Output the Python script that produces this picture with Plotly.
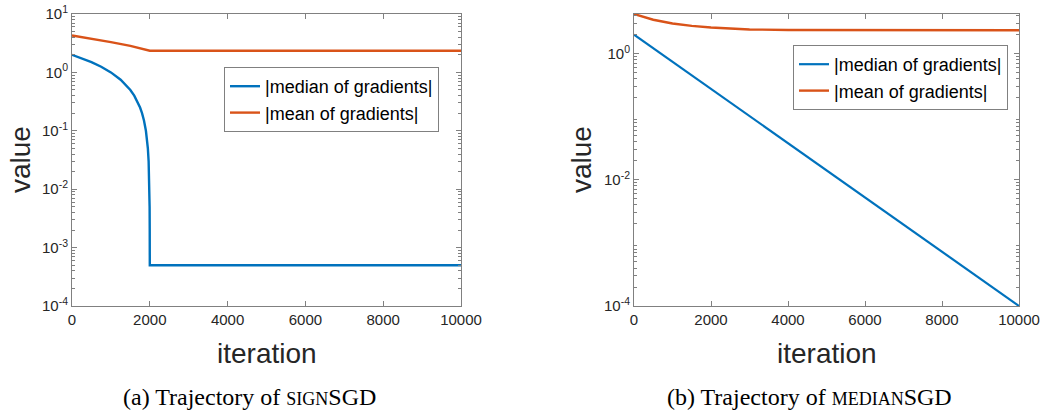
import plotly.graph_objects as go
import math

# ---- data ----
iter_a_median = [0, 250, 500, 750, 1000, 1250, 1400, 1500, 1600, 1700, 1750, 1800, 1850, 1900,
                 1925, 1950, 1970, 1980, 1990, 1995, 1998, 2000, 10000]
median_a = [2.0, 1.75, 1.5, 1.25, 1.0, 0.75, 0.6, 0.5, 0.4, 0.3, 0.25, 0.2, 0.15, 0.1,
            0.075, 0.05, 0.03, 0.02, 0.01, 0.005, 0.002, 0.0005, 0.0005]
iter_a_mean = [0, 500, 1000, 1500, 2000, 10000]
mean_a = [4.3, 3.8, 3.3, 2.85, 2.35, 2.35]

iter_b_median = [0, 2000, 4000, 6000, 8000, 10000]
median_b = [2.0, 0.276, 0.0381, 0.00526, 0.000725, 0.0001]
iter_b_mean = [0, 250, 500, 1000, 1500, 2000, 2500, 3000, 4000, 6000, 10000]
mean_b = [4.25, 3.8, 3.45, 3.0, 2.75, 2.6, 2.5, 2.42, 2.37, 2.35, 2.35]

x_ticks = [0, 2000, 4000, 6000, 8000, 10000]
x_ticktext = ["0", "2000", "4000", "6000", "8000", "10000"]
y_ticks_a = [1e-4, 1e-3, 1e-2, 1e-1, 1e0, 1e1]
y_ticktext_a = ["10<sup>-4</sup>", "10<sup>-3</sup>", "10<sup>-2</sup>", "10<sup>-1</sup>", "10<sup>0</sup>", "10<sup>1</sup>"]
y_ticks_b = [1e-4, 1e-2, 1e0]
y_ticktext_b = ["10<sup>-4</sup>", "10<sup>-2</sup>", "10<sup>0</sup>"]

names = ["|median of gradients|", "|mean of gradients|"]
captions = ["(a) Trajectory of <span style='font-size:18px'>SIGN</span>SGD",
            "(b) Trajectory of <span style='font-size:18px'>MEDIAN</span>SGD"]

BLUE = "#0072BD"
ORANGE = "#D95319"
AXC = "#808080"
TXT = "#262626"
SANS = "Liberation Sans, Arial, sans-serif"
SERIF = "Liberation Serif, DejaVu Serif, serif"

W, H = 1046, 412

# minor log ticks (2..9 within each decade)
minor_vals = [m * 10.0 ** e for e in range(-5, 2) for m in range(2, 10)]

fig = go.Figure()
fig.add_trace(go.Scatter(x=iter_a_median, y=median_a, mode="lines", name=names[0],
                         line=dict(color=BLUE, width=2.4), xaxis="x", yaxis="y", legend="legend"))
fig.add_trace(go.Scatter(x=iter_a_mean, y=mean_a, mode="lines", name=names[1],
                         line=dict(color=ORANGE, width=2.4), xaxis="x", yaxis="y", legend="legend"))
fig.add_trace(go.Scatter(x=iter_b_median, y=median_b, mode="lines", name=names[0],
                         line=dict(color=BLUE, width=2.2), xaxis="x2", yaxis="y2", legend="legend2"))
fig.add_trace(go.Scatter(x=iter_b_mean, y=mean_b, mode="lines", name=names[1],
                         line=dict(color=ORANGE, width=2.4), xaxis="x2", yaxis="y2", legend="legend2"))

ydom = [1 - 306 / H, 1 - 14 / H]

def xax(dom, anchor):
    return dict(domain=dom, anchor=anchor, range=[0, 10000], tickmode="array",
                tickvals=x_ticks, ticktext=x_ticktext, automargin=False,
                ticks="inside", ticklen=5, tickcolor=AXC, showline=True, linecolor=AXC,
                linewidth=1, mirror="ticks", showgrid=False, zeroline=False,
                tickfont=dict(family=SANS, size=15, color=TXT))

def yax(anchor, rng, tv, tt):
    return dict(domain=ydom, anchor=anchor, type="log", range=rng, tickmode="array",
                tickvals=tv, ticktext=tt, automargin=False,
                ticks="inside", ticklen=5, tickcolor=AXC, showline=True, linecolor=AXC,
                linewidth=1, mirror="ticks", showgrid=False, zeroline=False,
                minor=dict(tickmode="array", tickvals=minor_vals, ticks="inside",
                           ticklen=3, tickcolor=AXC, showgrid=False),
                tickfont=dict(family=SANS, size=15, color=TXT))

fig.update_layout(
    template="none",
    width=W, height=H,
    margin=dict(l=0, r=0, t=0, b=0, autoexpand=False),
    paper_bgcolor="white", plot_bgcolor="white",
    xaxis=xax([72 / W, 461 / W], "y"),
    yaxis=yax("x", [-4, 1], y_ticks_a, y_ticktext_a),
    xaxis2=xax([634 / W, 1019 / W], "y2"),
    yaxis2=yax("x2", [-4, math.log10(4.25)], y_ticks_b, y_ticktext_b),
    legend=dict(x=224 / W, y=1 - 67 / H, xanchor="left", yanchor="top",
                bordercolor=AXC, borderwidth=1, bgcolor="white",
                font=dict(family=SANS, size=18, color="black"), tracegroupgap=0),
    legend2=dict(x=793 / W, y=1 - 45 / H, xanchor="left", yanchor="top",
                 bordercolor=AXC, borderwidth=1, bgcolor="white",
                 font=dict(family=SANS, size=18, color="black"), tracegroupgap=0),
    showlegend=True,
)

ann = []
# axis titles
for xc in [267, 827]:
    ann.append(dict(text="iteration", x=xc / W, y=1 - 353 / H, xref="paper", yref="paper",
                    showarrow=False, font=dict(family=SANS, size=28, color=TXT),
                    xanchor="center", yanchor="middle"))
for xc in [20, 581]:
    ann.append(dict(text="value", x=xc / W, y=1 - 160 / H, xref="paper", yref="paper",
                    showarrow=False, textangle=-90, font=dict(family=SANS, size=28, color=TXT),
                    xanchor="center", yanchor="middle"))
# captions
for xc, cap in zip([249, 809], captions):
    ann.append(dict(text=cap, x=xc / W, y=1 - 397 / H, xref="paper", yref="paper",
                    showarrow=False, font=dict(family=SERIF, size=24, color="black"),
                    xanchor="center", yanchor="middle"))
fig.update_layout(annotations=ann)

fig.write_html("out.html", config={"displayModeBar": False},
               post_script="document.body.style.margin='0';document.body.style.overflow='hidden';")
